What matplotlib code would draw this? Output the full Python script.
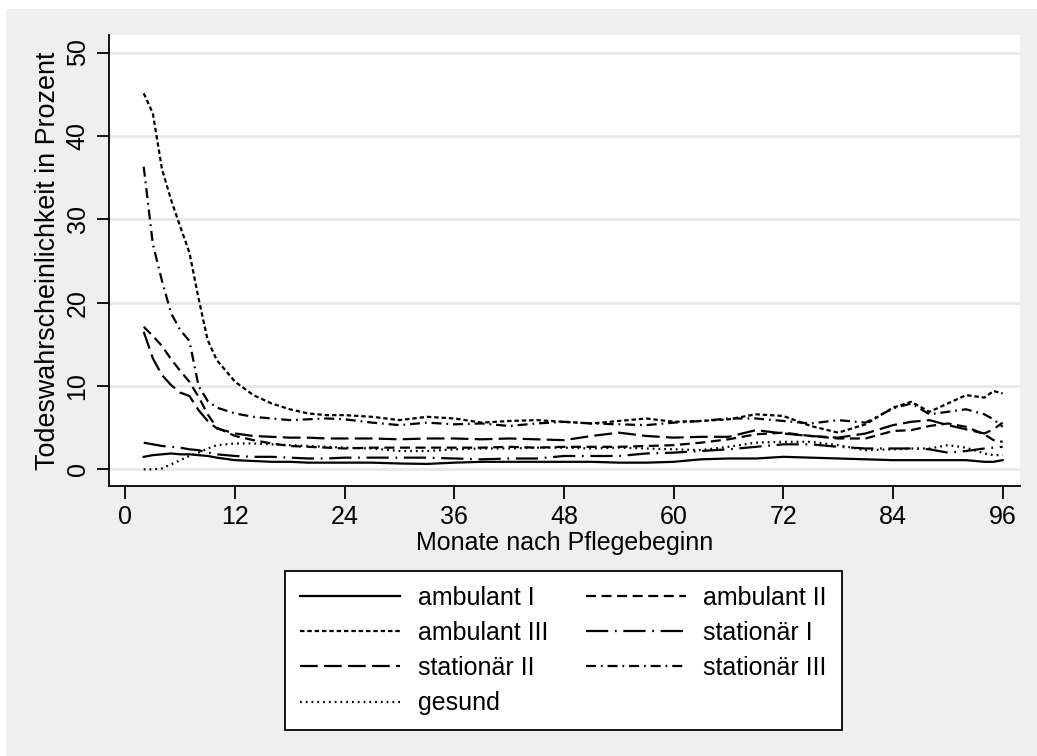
import numpy as np
import matplotlib.pyplot as plt
from matplotlib.patches import Rectangle

# Data
months = [2, 3, 4, 5, 6, 7, 8, 9, 10, 12, 14, 16, 18, 20, 22, 24, 27, 30, 33, 36,
          39, 42, 45, 48, 51, 54, 57, 60, 63, 66, 69, 72, 75, 78, 81, 84, 86, 88,
          90, 92, 94, 95, 96]

ambulant_1 = [1.5, 1.7, 1.8, 1.9, 1.8, 1.8, 1.7, 1.6, 1.4, 1.1, 1.0, 0.9, 0.9, 0.8,
              0.8, 0.8, 0.8, 0.7, 0.65, 0.8, 0.9, 0.9, 0.9, 0.9, 0.9, 0.8, 0.8, 0.9,
              1.2, 1.3, 1.3, 1.5, 1.4, 1.3, 1.2, 1.1, 1.1, 1.1, 1.1, 1.1, 0.9, 0.9, 1.1]
ambulant_2 = [17.1, 16.0, 14.8, 13.2, 11.8, 10.5, 8.7, 6.6, 5.0, 4.0, 3.5, 3.1, 2.8,
              2.7, 2.6, 2.5, 2.6, 2.6, 2.6, 2.6, 2.6, 2.7, 2.6, 2.7, 2.7, 2.7, 2.8,
              2.9, 3.2, 3.6, 4.2, 4.4, 4.0, 3.7, 3.7, 4.6, 4.7, 5.2, 5.5, 5.1, 4.2,
              3.5, 3.3]
ambulant_3 = [45.1, 42.7, 36.0, 32.3, 29.1, 26.0, 20.5, 15.5, 13.1, 10.5, 8.9, 7.9,
              7.2, 6.7, 6.5, 6.5, 6.3, 5.9, 6.3, 6.1, 5.6, 5.8, 5.9, 5.7, 5.5, 5.8,
              6.1, 5.7, 5.8, 6.0, 6.6, 6.4, 5.2, 4.4, 5.4, 7.4, 8.1, 6.9, 7.9, 8.9,
              8.6, 9.4, 9.1]
stationaer_1 = [3.2, 3.0, 2.8, 2.7, 2.6, 2.4, 2.3, 2.0, 1.8, 1.6, 1.5, 1.5, 1.4, 1.3,
                1.3, 1.4, 1.4, 1.4, 1.4, 1.3, 1.2, 1.3, 1.3, 1.6, 1.6, 1.6, 1.9, 2.0,
                2.2, 2.4, 2.7, 3.0, 3.0, 2.7, 2.5, 2.5, 2.5, 2.4, 2.0, 2.2, 2.5, 2.6,
                2.7]
stationaer_2 = [16.5, 13.3, 11.3, 10.1, 9.2, 8.8, 7.1, 5.8, 4.9, 4.3, 4.0, 3.9, 3.8,
                3.8, 3.7, 3.7, 3.7, 3.6, 3.7, 3.7, 3.6, 3.7, 3.6, 3.5, 4.0, 4.4, 4.0,
                3.8, 3.9, 3.9, 4.7, 4.3, 4.0, 3.8, 4.3, 5.3, 5.7, 5.9, 5.3, 4.8, 4.3,
                4.8, 5.6]
stationaer_3 = [36.3, 27.0, 22.6, 18.7, 16.7, 15.4, 10.0, 8.2, 7.4, 6.7, 6.3, 6.1,
                5.9, 6.0, 6.1, 6.0, 5.6, 5.3, 5.6, 5.4, 5.5, 5.2, 5.5, 5.7, 5.5, 5.4,
                5.3, 5.6, 5.8, 6.1, 6.1, 5.8, 5.5, 5.9, 5.6, 7.3, 7.9, 6.6, 6.9, 7.2,
                6.6, 6.0, 5.1]
gesund = [0.0, 0.0, 0.1, 0.6, 1.1, 1.6, 2.0, 2.5, 2.9, 3.1, 3.1, 3.0, 2.9, 2.8, 2.7,
          2.6, 2.5, 2.2, 2.2, 2.4, 2.5, 2.5, 2.6, 2.6, 2.5, 2.6, 2.5, 2.4, 2.3, 2.7,
          3.2, 3.3, 3.3, 2.9, 2.3, 2.4, 2.5, 2.5, 2.9, 2.6, 1.9, 1.7, 1.7]

labels = ["ambulant I", "ambulant II", "ambulant III", "stationär I",
          "stationär II", "stationär III", "gesund"]
series = [ambulant_1, ambulant_2, ambulant_3, stationaer_1,
          stationaer_2, stationaer_3, gesund]
styles = ["-", (0, (4.5, 2.5)), (0, (2, 1.3)), (0, (10, 3, 0.8, 3)),
          (0, (8, 2.8)), (0, (4.5, 2.2, 0.8, 2.2)), (0, (0.8, 1.8))]

xticks = [0, 12, 24, 36, 48, 60, 72, 84, 96]
yticks = [0, 10, 20, 30, 40, 50]

plt.rcParams['font.family'] = ['Liberation Sans', 'DejaVu Sans']
FS = 18

bg = "#efefef"
fig = plt.figure(figsize=(10.37, 7.56), dpi=100, facecolor=bg)
# thin white border at top and left as in the reference
fig.patches.append(Rectangle((0, 1 - 9 / 756), 1, 9 / 756, transform=fig.transFigure,
                             facecolor="white", edgecolor="none", zorder=-1))
fig.patches.append(Rectangle((0, 0), 6 / 1037, 1, transform=fig.transFigure,
                             facecolor="white", edgecolor="none", zorder=-1))

ax = fig.add_axes([109 / 1037, 1 - 486 / 756, (1020 - 109) / 1037, (486 - 35) / 756])
ax.set_facecolor("white")

lines = []
for vals, lab, ls in zip(series, labels, styles):
    ln, = ax.plot(months, vals, color="black", lw=1.6, linestyle=ls, label=lab)
    lines.append(ln)

ax.set_xlim(-1.8, 97.9)
ax.set_ylim(-2.0, 52.1)
ax.set_xticks(xticks)
ax.set_yticks(yticks)
ax.grid(axis="y", color="#e8e8e8", lw=2)
ax.set_axisbelow(True)
for s in ["top", "right"]:
    ax.spines[s].set_visible(False)
for s in ["left", "bottom"]:
    ax.spines[s].set_linewidth(1.3)
ax.tick_params(axis="both", length=9, width=1.3, labelsize=FS, pad=5)
for lbl in ax.get_yticklabels():
    lbl.set_rotation(90)
    lbl.set_va("center")

ax.set_xlabel("Monate nach Pflegebeginn", fontsize=FS, labelpad=1)
ax.set_ylabel("Todeswahrscheinlichkeit in Prozent", fontsize=19.4, labelpad=3)

# legend is filled row by row in the reference -> reorder for column filling
order = [0, 2, 4, 6, 1, 3, 5]
leg = fig.legend([lines[i] for i in order], [labels[i] for i in order],
                 loc="center", bbox_to_anchor=(563.5 / 1037, 1 - 650.5 / 756),
                 ncol=2, fontsize=FS, frameon=True, fancybox=False,
                 handlelength=4.0, handletextpad=0.7, columnspacing=1.5,
                 labelspacing=0.45, borderpad=0.6)
leg.get_frame().set_edgecolor("black")
leg.get_frame().set_linewidth(1.3)
leg.get_frame().set_facecolor("white")
leg.get_frame().set_alpha(1)

fig.savefig("out.png", dpi=100, facecolor=bg)
